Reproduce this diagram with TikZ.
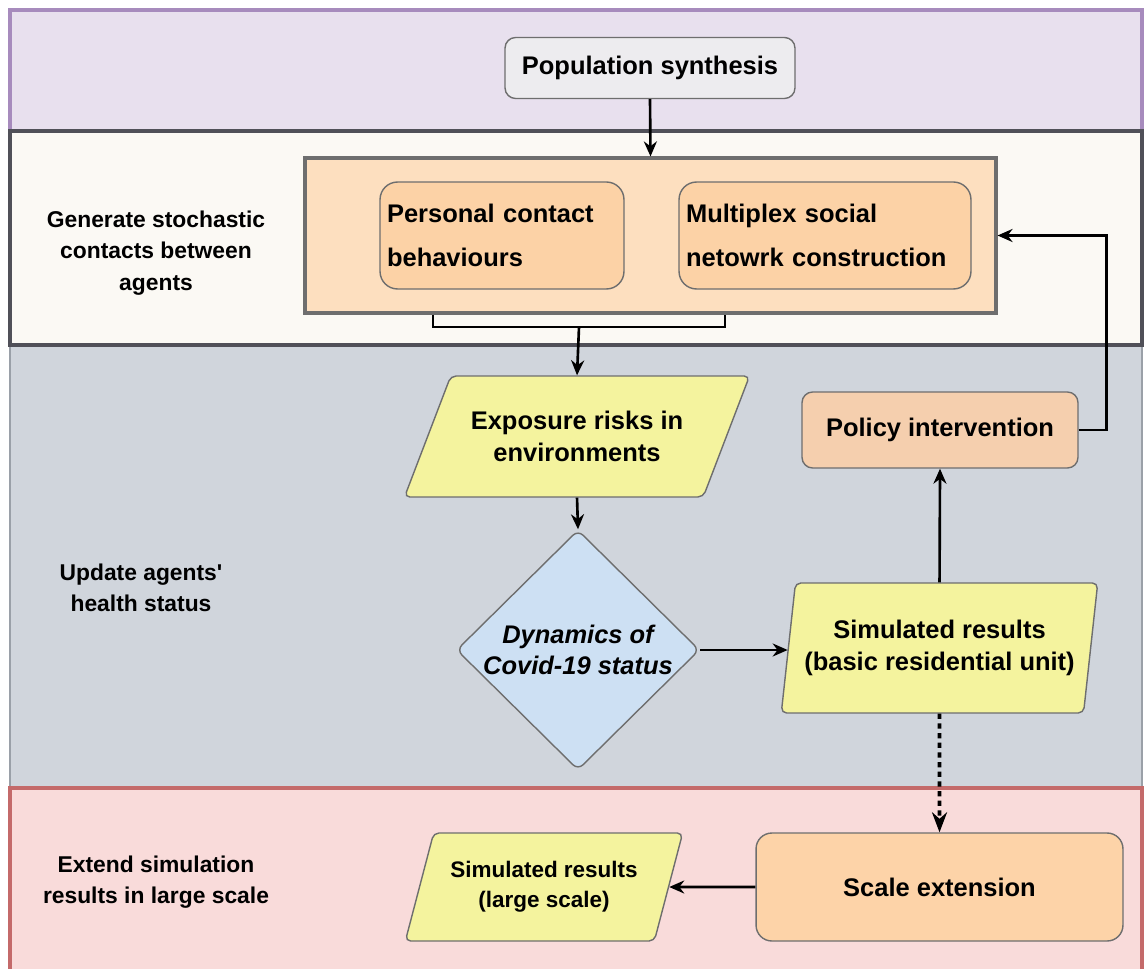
\documentclass[tikz,border=0pt]{standalone}
\usepackage{fontspec}
\setmainfont{Liberation Sans}[Ligatures=TeXOff]
\usetikzlibrary{arrows.meta,shapes.geometric}
\usepackage{xcolor}

\definecolor{purpfill}{HTML}{E8E0EE}
\definecolor{purpline}{HTML}{A78BBD}
\definecolor{creamfill}{HTML}{FBF9F4}
\definecolor{darkline}{HTML}{505058}
\definecolor{grayfill}{HTML}{D0D5DC}
\definecolor{grayline}{HTML}{9AA0A8}
\definecolor{pinkfill}{HTML}{F9DBDA}
\definecolor{redline}{HTML}{C46A6A}
\definecolor{popfill}{HTML}{EDECEF}
\definecolor{boxline}{HTML}{6E6E6E}
\definecolor{contfill}{HTML}{FDDFBF}
\definecolor{subfill}{HTML}{FCD2A6}
\definecolor{yelfill}{HTML}{F4F39E}
\definecolor{bluefill}{HTML}{CDE0F3}
\definecolor{polfill}{HTML}{F5CFAE}
\definecolor{scalefill}{HTML}{FDD3A8}

\begin{document}
\begin{tikzpicture}[x=0.02cm, y=-0.02cm,
    box/.style={draw=boxline, line width=0.8pt, rounded corners=6pt, align=center,
      font=\fontsize{14.5}{18}\selectfont\bfseries},
    subbox/.style={box, fill=subfill, rounded corners=10pt, align=left, inner xsep=0.14cm,
      font=\fontsize{14.5}{25}\selectfont\bfseries},
    para/.style={box, trapezium, trapezium stretches=true, rounded corners=3pt, fill=yelfill},
    lane/.style={align=center, font=\fontsize{13}{18}\selectfont\bfseries},
    flow/.style={line width=1.5pt, -{Stealth[length=3mm,width=2.6mm]}}]

  % Frame of the picture
  \useasboundingbox (0,0) rectangle (1148,969);

  % Lanes
  \draw[fill=purpfill, draw=purpline, line width=1.8pt] (10,10) rectangle (1142,131);
  \draw[fill=grayfill, draw=grayline, line width=1.5pt] (10,345) rectangle (1142,788);
  \draw[fill=creamfill, draw=darkline, line width=2pt] (10,131) rectangle (1142,345);
  \draw[fill=pinkfill, draw=redline, line width=1.8pt] (10,788) rectangle (1142,985);

  % Lane labels
  \node[lane] (gen) at (156,253) {Generate stochastic\\contacts between\\agents};
  \node[lane] (upd) at (141,588) {Update agents'\\health status};
  \node[lane] (ext) at (156,882) {Extend simulation\\results in large scale};

  % Boxes
  \node[box, fill=popfill, minimum width=5.8cm, minimum height=1.22cm] (pop) at (650,68) {Population synthesis};

  \node[draw=boxline, line width=1.8pt, fill=contfill, minimum width=13.82cm, minimum height=3.1cm] (contain) at (650.5,235.5) {};
  \node[subbox, text width=4.6cm, minimum height=2.14cm] (pcb) at (502,235.5) {Personal contact\\behaviours};
  \node[subbox, text width=5.56cm, minimum height=2.14cm] (msn) at (825,235.5) {Multiplex social\\netowrk construction};

  \node[para, trapezium left angle=56.5, trapezium right angle=123.5,
    minimum width=6.92cm, minimum height=2.42cm] (expo) at (577,436.5) {Exposure risks in\\environments};

  \node[box, diamond, fill=bluefill, rounded corners=4pt, inner sep=0pt,
    minimum width=4.86cm, minimum height=4.5cm, font=\fontsize{14.5}{18}\selectfont\bfseries\itshape] (dyn) at (578,650) {Dynamics of\\Covid-19 status};

  \node[box, fill=polfill, minimum width=5.52cm, minimum height=1.52cm] (pol) at (940,430) {Policy intervention};

  \node[para, trapezium left angle=78.3, trapezium right angle=101.7,
    minimum width=6.34cm, minimum height=2.6cm] (simres) at (939.5,648) {Simulated results\\(basic residential unit)};

  \node[box, fill=scalefill, rounded corners=9pt, minimum width=7.34cm, minimum height=2.16cm] (scale) at (939.5,887) {Scale extension};

  \node[para, trapezium left angle=67.8, trapezium right angle=112.2,
    minimum width=5.56cm, minimum height=2.16cm, font=\fontsize{12.8}{17}\selectfont\bfseries] (simlarge) at (544,887) {Simulated results\\(large scale)};

  % Connectors
  \draw[flow] (pop.south) -- (contain.north);
  \coordinate (brk) at (579,327);
  \draw[line width=1.5pt] (contain.south -| 433,0) -- (433,327) -- (725,327) -- (contain.south -| 725,0);
  \draw[flow] (brk) -- (expo.north);
  \draw[flow] (expo.south) -- (dyn.north);
  \draw[flow] (dyn.east) -- (dyn.east -| simres.west);
  \draw[flow] (simres.north) -- (pol.south);
  \draw[flow] (pol.east) -- ++(28,0) |- (contain.east);
  \draw[line width=2.2pt, dash pattern=on 3pt off 2.5pt, -{Stealth[length=4mm,width=3mm]}] (simres.south) -- (scale.north);
  \draw[flow] (scale.west) -- (simlarge.east);

\end{tikzpicture}
\end{document}
